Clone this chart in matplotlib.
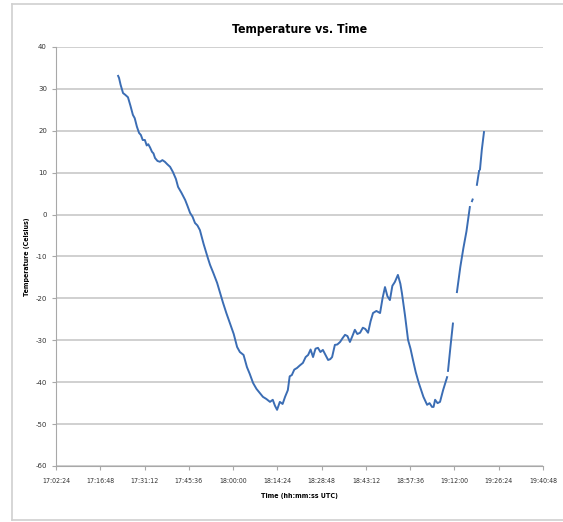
import numpy as np
import matplotlib
matplotlib.use("Agg")
import matplotlib.pyplot as plt
from matplotlib.lines import Line2D

plt.rcParams["axes.unicode_minus"] = False

# minutes after 17:02:24 UTC, nan = gap in the record
minutes = [20.2, 20.5, 21.0, 21.8, 22.5, 23.4, 24.2, 25.0, 25.6, 26.3, 27.0, 27.6,
           28.2, 28.9, 29.5, 30.0, 30.6, 31.2, 31.7, 32.2, 33.0, 33.8, 34.6, 35.4,
           36.2, 37.1, 38.0, 39.0, 39.7, 40.8, 42.0, 42.8, 43.6, 44.4, 45.2, 46.0,
           46.8, 48.0, 49.4, 50.1, 51.2, 52.4, 53.3, 54.3, 55.4, 56.6, 57.8, 58.9,
           59.8, 61.0, 62.1, 63.0, 64.1, 65.2, 66.3, 67.3, 68.4, 69.6, 70.5, 71.2,
           71.9, 72.8, 73.7, 74.5, 75.4, 76.0, 76.7, 77.5, 78.4, 79.3, 80.3, 81.2,
           82.0, 82.8, 83.6, 84.4, 85.2, 86.0, 86.8, 87.7, 88.5, 89.2, 89.8, 90.7,
           91.5, 92.4, 93.2, 94.0, 94.8, 95.6, 96.4, 97.2, 98.0, 98.9, 99.8, 100.6,
           101.5, 102.3, 103.1, 104.2, 105.4, 106.2, 107.0, 107.8, 108.6, 109.4,
           110.2, 111.2, 112.0, 112.5, 113.5, 114.5, 115.3, 116.1, 117.0, 118.0,
           118.4, 119.5, 120.7, 121.5, 122.3, 122.8, 123.3, 124.1, 124.9, 125.9,
           127.2, np.nan, 127.5, 128.3, 129.1, np.nan, 130.4, 131.5, 132.5, 133.5,
           134.6, np.nan, 135.3, 135.5, np.nan, 136.9, 137.6, np.nan, 137.9, 138.5,
           139.2]
temps = [33.1, 32.6, 31.0, 29.0, 28.6, 28.0, 26.0, 23.8, 23.0, 21.0, 19.5, 19.0,
         17.8, 17.8, 16.5, 16.8, 16.0, 15.0, 14.6, 13.5, 12.8, 12.6, 13.0, 12.6,
         12.0, 11.4, 10.2, 8.5, 6.6, 5.2, 3.5, 2.0, 0.4, -0.5, -2.0, -2.6, -3.7,
         -7.0, -10.4, -12.0, -14.0, -16.3, -18.5, -21.0, -23.5, -26.0, -28.5, -31.6,
         -32.8, -33.5, -36.4, -38.0, -40.2, -41.6, -42.6, -43.5, -44.0, -44.7,
         -44.2, -45.6, -46.6, -44.7, -45.2, -43.5, -41.9, -38.6, -38.3, -37.0,
         -36.6, -36.0, -35.4, -34.0, -33.5, -32.2, -34.0, -32.0, -31.8, -32.8,
         -32.3, -33.6, -34.7, -34.5, -34.0, -31.1, -31.0, -30.4, -29.5, -28.7,
         -29.0, -30.4, -29.0, -27.5, -28.5, -28.2, -27.0, -27.3, -28.2, -25.5,
         -23.5, -23.0, -23.5, -20.0, -17.3, -19.5, -20.4, -17.0, -16.1, -14.4,
         -16.5, -18.7, -24.0, -29.9, -32.0, -34.7, -37.6, -40.2, -41.1, -43.5,
         -45.4, -45.0, -45.9, -45.9, -44.2, -45.0, -44.7, -41.9,
         -38.8, np.nan, -37.3, -31.5, -26.0, np.nan, -18.5, -12.5, -8.0, -4.0,
         1.8, np.nan, 3.2, 3.6, np.nan, 7.1, 10.4, np.nan, 10.8, 15.5,
         19.7]

tick_labels = ["17:02:24", "17:16:48", "17:31:12", "17:45:36", "18:00:00", "18:14:24",
               "18:28:48", "18:43:12", "18:57:36", "19:12:00", "19:26:24", "19:40:48"]
y_ticks = [40, 30, 20, 10, 0, -10, -20, -30, -40, -50, -60]

fig = plt.figure(figsize=(5.63, 5.22), dpi=100)
ax = fig.add_axes([0.0995, 0.1073, 0.865, 0.8027])

ax.plot(minutes, temps, color="#3B6DB4", lw=1.4)

ax.set_xlim(0, 158.4)
ax.set_ylim(-60, 40)
ax.set_xticks(np.arange(len(tick_labels)) * 14.4)
ax.set_xticklabels(tick_labels, fontstretch="condensed")
ax.set_yticks(y_ticks)
ax.grid(axis="y", color="#C8C8C8", lw=1.2)
ax.set_axisbelow(True)
for s in ["top", "right"]:
    ax.spines[s].set_visible(False)
for s in ["left", "bottom"]:
    ax.spines[s].set_color("#A8A8A8")
ax.tick_params(axis="both", colors="#A8A8A8", labelcolor="#333333", labelsize=5,
               length=3, width=0.8)
ax.tick_params(axis="x", pad=6)

ax.set_title("Temperature vs. Time", fontsize=8.8, fontweight="bold",
             fontstretch="condensed", pad=10)
ax.set_xlabel("Time (hh:mm:ss UTC)", fontsize=5, fontweight="bold",
              fontstretch="condensed", labelpad=6)
ax.set_ylabel("Temperature (Celsius)", fontsize=5, fontweight="bold",
              fontstretch="condensed", labelpad=4)

# chart frame
fc = "#D0D0D0"
fig.add_artist(Line2D([12/563, 12/563], [1 - 4/522, 1 - 520/522], color=fc, lw=1.2, transform=fig.transFigure))
fig.add_artist(Line2D([12/563, 1], [1 - 4/522, 1 - 4/522], color=fc, lw=1.2, transform=fig.transFigure))
fig.add_artist(Line2D([12/563, 1], [1 - 520/522, 1 - 520/522], color=fc, lw=1.2, transform=fig.transFigure))

fig.savefig("out.png", dpi=100)
